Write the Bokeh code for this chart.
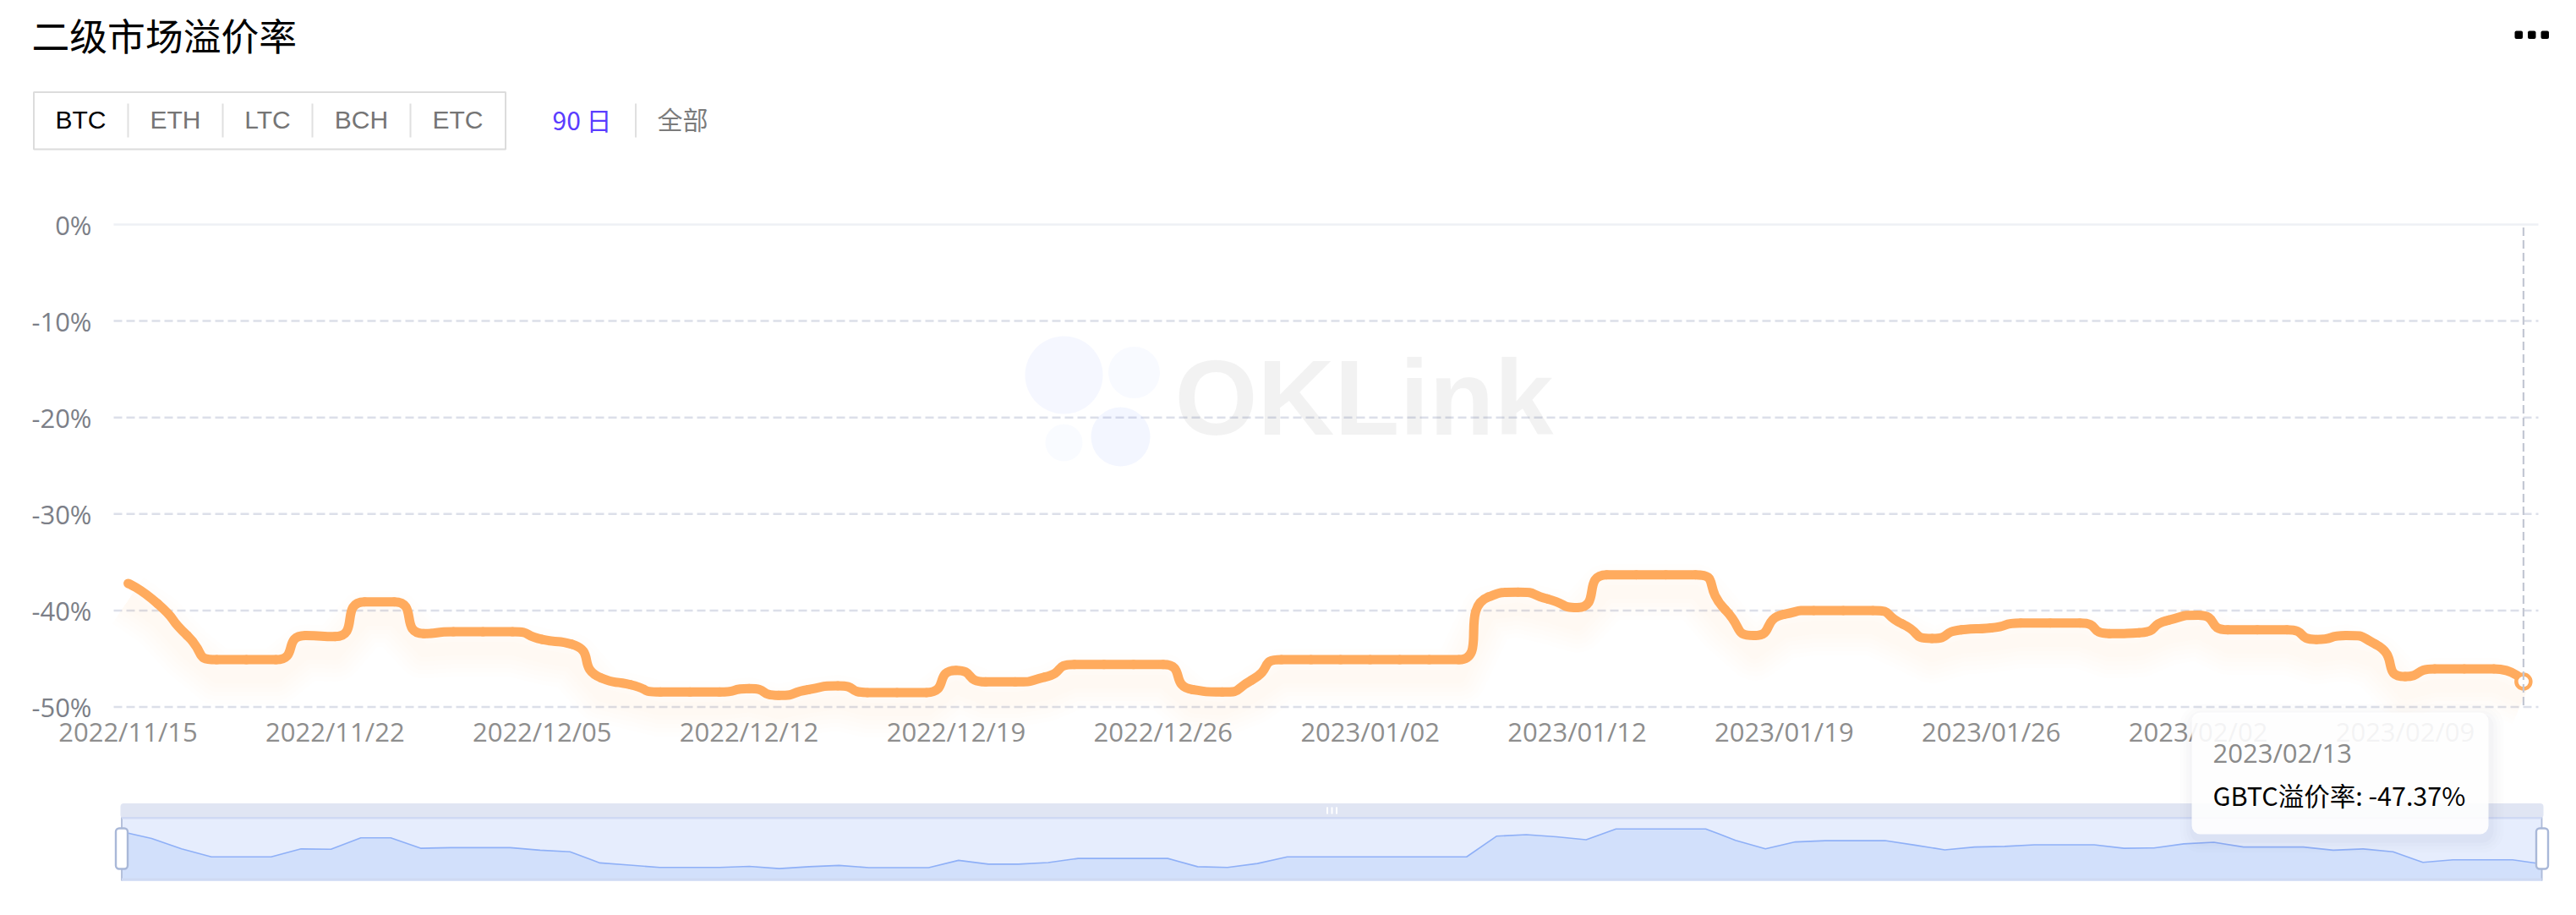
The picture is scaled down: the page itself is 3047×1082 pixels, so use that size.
from bokeh.plotting import figure
from bokeh.models import Range1d, FixedTicker, Label, BoxAnnotation
from bokeh.embed import file_html
from bokeh.resources import INLINE

# ---------- data ----------
tick_dates = ["2022/11/15", "2022/11/22", "2022/12/05", "2022/12/12", "2022/12/19", "2022/12/26",
              "2023/01/02", "2023/01/12", "2023/01/19", "2023/01/26", "2023/02/02", "2023/02/09"]
last_date = "2023/02/13"
y_ticks = [0, -10, -20, -30, -40, -50]
y_tick_labels = ["0%", "-10%", "-20%", "-30%", "-40%", "-50%"]
series_name = "GBTC溢价率"
premium = [-37.2, -39.3, -42.6, -45.1, -45.1, -45.1, -42.6, -42.7, -39.1, -39.1,
           -42.4, -42.2, -42.2, -42.2, -43.0, -43.5, -47.0, -47.7, -48.45, -48.45,
           -48.45, -48.1, -48.8, -48.2, -47.8, -48.5, -48.5, -48.5, -46.2, -47.4,
           -47.4, -46.9, -45.6, -45.6, -45.6, -45.6, -48.2, -48.45, -47.2, -45.1,
           -45.1, -45.1, -45.1, -45.1, -45.1, -45.1, -38.6, -38.1, -38.8, -39.7,
           -36.3, -36.3, -36.3, -36.3, -39.9, -42.6, -40.4, -40.0, -40.0, -40.0,
           -41.4, -42.9, -42.0, -41.8, -41.3, -41.3, -41.3, -42.4, -42.3, -41.0,
           -40.5, -42.0, -42.0, -42.0, -43.0, -42.6, -43.5, -46.85, -46.05, -46.05,
           -46.05, -47.37]
coins = ["BTC", "ETH", "LTC", "BCH", "ETC"]
periods = ["90 日", "全部"]
title_text = "二级市场溢价率"
watermark = "OKLink"

# ---------- layout constants (reference pixel coordinates) ----------
W, H = 3031, 1060
ORIGIN = 0
X0, XSTEP = 151.0, 34.98
Y0, YSTEP = 265.0, 11.41
OV_X0, OV_XSTEP = 143.5, 35.35
OV_Y0, OV_V0, OV_YSTEP = 979.3, -36.2, 3.757
ORANGE = "#ffab5e"
GLOW = "#ff9a5c"
FONT_AXIS = "Open Sans"
FONT_UI = "Liberation Sans"
FONT_CJK = "Noto Sans CJK SC"
DASH = "10 5"

idx = list(range(len(premium)))
i_of = lambda px: (px - X0) / XSTEP
v_of = lambda py: -(py - Y0) / YSTEP
ov_i = lambda px: (px - OV_X0) / OV_XSTEP
ov_v = lambda py: OV_V0 - (py - OV_Y0) / OV_YSTEP

p = figure(width=W, height=H, output_backend="svg", toolbar_location=None, min_border=0,
           x_range=Range1d(i_of(ORIGIN), i_of(ORIGIN + W)), y_range=Range1d(v_of(ORIGIN + H), v_of(ORIGIN)),
           background_fill_color="white", border_fill_color="white", outline_line_color=None)
p.extra_x_ranges = {"px": Range1d(ORIGIN, ORIGIN + W), "ov": Range1d(ov_i(ORIGIN), ov_i(ORIGIN + W))}
p.extra_y_ranges = {"px": Range1d(ORIGIN + H, ORIGIN), "ov": Range1d(ov_v(ORIGIN + H), ov_v(ORIGIN))}
p.xgrid.visible = False
p.ygrid.visible = False
PX = dict(x_range_name="px", y_range_name="px")
OV = dict(x_range_name="ov", y_range_name="ov")

# axes, inside the frame
p.xaxis.fixed_location = -50
p.yaxis.fixed_location = i_of(134)
p.xaxis.ticker = FixedTicker(ticks=idx[::7])
p.xaxis.major_label_overrides = {i: t for i, t in zip(idx[::7], tick_dates)}
p.yaxis.ticker = FixedTicker(ticks=y_ticks)
p.yaxis.major_label_overrides = dict(zip(y_ticks, y_tick_labels))
for ax, color, standoff in ((p.xaxis, "#8e8e8e", 2), (p.yaxis, "#7c7f88", 20)):
    ax.axis_line_color = None
    ax.major_tick_line_color = None
    ax.minor_tick_line_color = None
    ax.major_label_text_font = FONT_AXIS
    ax.major_label_text_font_size = "31px"
    ax.major_label_text_color = color
    ax.major_label_standoff = standoff


def label(x, y, text, size, color, font=FONT_UI, align="left", style="normal", level="annotation", alpha=1.0):
    p.add_layout(Label(x=x, y=y, text=text, text_font=font, text_font_size=f"{size}px", text_color=color,
                       text_align=align, text_baseline="middle", text_font_style=style, text_alpha=alpha,
                       level=level, **PX))


def box(l, t, r, b, fill, alpha=1.0, line=None, lw=0, radius=0, level="annotation"):
    p.add_layout(BoxAnnotation(left=l, right=r, top=t, bottom=b, fill_color=fill, fill_alpha=alpha,
                               line_color=line, line_width=lw, line_alpha=1.0 if line else 0.0,
                               border_radius=radius, level=level, **PX))


# header
label(37, 40, title_text, 44.8, "#000000", FONT_CJK)
for x in (2974, 2989.5, 3005):
    box(x, 36, x + 9.5, 45.5, "#000000", radius=2)
box(39.5, 108.5, 597.5, 176, None, alpha=0, line="#dcdcdc", lw=2)
for x in (151, 263, 369, 485, 751.5):
    p.segment(x0=[x], x1=[x], y0=[122], y1=[162], line_color="#e0e0e0", line_width=2, **PX)
for name, x, c in zip(coins, (95, 207, 316, 427, 541), ("#000000", "#757575", "#757575", "#757575", "#757575")):
    label(x, 141, name, 30, c, align="center")
label(688, 140, periods[0], 30, "#5a3cff", FONT_CJK, align="center")
label(807, 139.5, periods[1], 30, "#7b7b7b", FONT_CJK, align="center")

# grid lines
p.segment(x0=[134], x1=[3002], y0=[0], y1=[0], line_color="#eef0f5", line_width=2.5,
          x_range_name="px")
p.segment(x0=[134] * 5, x1=[3002] * 5, y0=y_ticks[1:], y1=y_ticks[1:], line_color="#dcdfe9",
          line_width=2.5, line_dash=DASH, x_range_name="px")

# watermark
for cx, cy, r, a in ((1258, 443, 46, 0.05), (1341, 440, 30.5, 0.035), (1258, 523, 22, 0.028), (1325, 516, 35, 0.06)):
    p.circle(x=[cx], y=[cy], radius=r, fill_color="#3366ff", fill_alpha=a, line_color=None, **PX)
label(1389, 470, watermark, 126, "#000000", FONT_UI, style="bold", alpha=0.05)

# glow under the line
GLOW_OFFSET = 20 / YSTEP
glow_y = [v - GLOW_OFFSET for v in premium]
for w in (66, 56, 46, 36, 26, 16):
    p.line(idx, glow_y, line_color=GLOW, line_width=w, line_alpha=0.013, line_join="round")


# smooth line: one bezier per pair of neighbouring values, the control points follow from the values
def smooth_controls(values, smooth=0.7):
    n = len(values)
    xs = [i * XSTEP for i in range(n)]
    ys = [v * YSTEP for v in values]
    after, before = [None] * n, [None] * n
    for i in range(n):
        x, y = xs[i], ys[i]
        if i == 0 or i == n - 1:
            after[i] = before[i] = (x, y)
            continue
        px_, py_, nx_, ny_ = xs[i - 1], ys[i - 1], xs[i + 1], ys[i + 1]
        l0 = ((x - px_) ** 2 + (y - py_) ** 2) ** 0.5
        l1 = ((nx_ - x) ** 2 + (ny_ - y) ** 2) ** 0.5
        ratio = l1 / (l0 + l1)
        cx = x + (nx_ - px_) * smooth * ratio
        cy = y + (ny_ - py_) * smooth * ratio
        cx = min(cx, max(nx_, x)); cx = max(cx, min(nx_, x))
        cy = min(cy, max(ny_, y)); cy = max(cy, min(ny_, y))
        bx = x - (cx - x) * l0 / l1
        by = y - (cy - y) * l0 / l1
        bx = min(bx, max(px_, x)); bx = max(bx, min(px_, x))
        by = min(by, max(py_, y)); by = max(by, min(py_, y))
        cx = x + (x - bx) * l1 / l0
        cy = y + (y - by) * l1 / l0
        after[i], before[i] = (cx, cy), (bx, by)
    return ([a[0] / XSTEP for a in after[:-1]], [a[1] / YSTEP for a in after[:-1]],
            [b[0] / XSTEP for b in before[1:]], [b[1] / YSTEP for b in before[1:]])


cx0, cy0, cx1, cy1 = smooth_controls(premium)
p.bezier(x0=idx[:-1], y0=premium[:-1], x1=idx[1:], y1=premium[1:], cx0=cx0, cy0=cy0, cx1=cx1, cy1=cy1,
         line_color=ORANGE, line_width=11, line_cap="round")

# end marker and crosshair
p.scatter(x=[idx[-1]], y=[premium[-1]], size=17, marker="circle", fill_color="white",
          line_color=ORANGE, line_width=4.5)
p.segment(x0=[idx[-1]], x1=[idx[-1]], y0=[-0.3], y1=[-50], line_color="#c3c7d3", line_width=2.2,
          line_dash=DASH)

# overview
box(142, 949.5, 3008, 967, "#e0e5f3", level="underlay", radius=4)
box(143.5, 966, 3006, 1041, "#e6edfd", level="underlay")
ov_base = ov_v(1041)
p.varea(x=idx, y1=premium, y2=[ov_base] * len(idx), fill_color="#d2e0fb", **OV)
p.line(idx, premium, line_color="#8fb0f7", line_width=1.6, **OV)
box(143.5, 1038, 3006, 1041, "#cfdaf3")
box(143.5, 965.5, 3006, 968, "#cfd9f3")
for x in (143.5, 3006):
    p.segment(x0=[x], x1=[x], y0=[966], y1=[1041], line_color="#aebbd8", line_width=1.8, **PX)
for l, r in ((136.5, 150.5), (2999.5, 3013.5)):
    box(l, 979, r, 1027, "white", line="#a9b8d8", lw=2.4, radius=4)
for x in (1569.5, 1575, 1580.5):
    p.segment(x0=[x], x1=[x], y0=[954], y1=[962], line_color="white", line_width=2, **PX)

# tooltip
for g, a in ((16, 0.010), (12, 0.012), (8, 0.015), (4, 0.018)):
    box(2592 - g + 2, 842 - g + 6, 2943 + g + 2, 986 + g + 6, "#3a4a7a", alpha=a, radius=10 + g, level="overlay")
box(2592, 842, 2943, 986, "white", alpha=0.9, radius=10, level="overlay")
label(2617, 889, last_date, 31, "#8a8a8a", FONT_AXIS, level="overlay")
label(2617, 939, f"{series_name}: {premium[-1]:.2f}%", 30.5, "#000000", FONT_CJK, level="overlay")

open("out.html", "w").write(file_html(p, INLINE))
